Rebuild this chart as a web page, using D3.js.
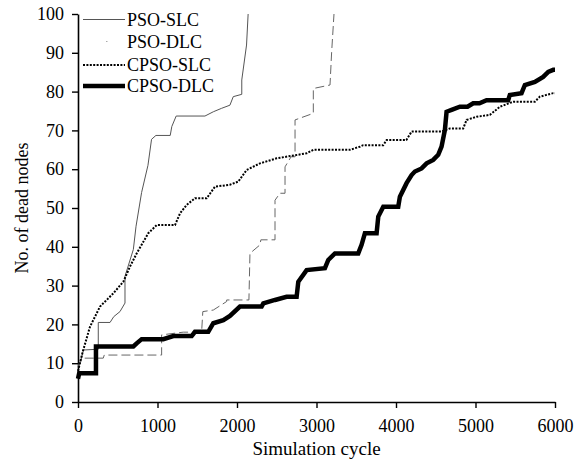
<!DOCTYPE html>
<html>
<head>
<meta charset="utf-8">
<script src="https://cdn.jsdelivr.net/npm/d3@7"></script>
<style>
  body { margin: 0; background: #fff; }
  svg { font-family: "Liberation Serif", "Times New Roman", serif; }
</style>
</head>
<body>
<div id="chart"></div>
<script>
// valores: [ciclo, nós mortos]
const psoSlc = [[0,9],[30,10],[67,13.4],[255,13.6],[255,20.5],[403,20.5],[450,22],[528,23.3],[591,25.5],[591,32.4],[696,39.3],[730,45.3],[800,54],[880,61],[925,67.7],[980,68.7],[1160,68.7],[1180,71],[1235,73.7],[1597,73.7],[1702,74.8],[1807,75.7],[1911,76.5],[1953,78.7],[2060,79.3],[2060,83],[2120,92],[2140,100]];
const psoDlc = [[0,9],[40,11.3],[318,11.3],[330,12.1],[1052,12.1],[1052,17.3],[1324,18],[1555,18],[1570,23.3],[1702,23.7],[1870,25.9],[1870,26.3],[2150,26.3],[2163,38.3],[2289,40.5],[2300,41.8],[2478,41.8],[2478,52],[2540,53.8],[2604,53.8],[2604,60.6],[2680,63.2],[2730,63.2],[2730,72.7],[2960,74.4],[2960,80.8],[3170,81.7],[3190,90],[3220,100]];
const cpsoSlc = [[0,8],[60,13],[151,19.4],[277,24.6],[444,28],[570,31],[654,34.9],[738,38.3],[884,43.5],[990,45.6],[1220,45.6],[1283,48.6],[1367,50.8],[1471,52.5],[1618,52.5],[1723,55.5],[1911,56],[2016,56.8],[2121,59.8],[2289,61.5],[2498,62.8],[2876,64.1],[2960,65],[3420,65],[3546,65.8],[3588,66.2],[3840,66.2],[3882,67.5],[4130,67.5],[4196,69.7],[4573,69.7],[4678,70.5],[4845,70.5],[4888,72.7],[5013,73.5],[5181,74],[5307,76.1],[5474,77.4],[5747,77.4],[5810,78.7],[5978,79.6],[6000,79.6]];
const cpsoDlc = [[0,6],[15,7.4],[226,7.4],[226,14.3],[696,14.3],[738,15.1],[801,16.2],[1073,16.2],[1199,17],[1430,17],[1471,18.1],[1639,18.1],[1702,20.3],[1828,21.1],[1911,22.2],[2037,24.6],[2310,24.6],[2331,25.4],[2478,26.3],[2624,27.1],[2750,27.1],[2771,31],[2876,34],[3106,34.5],[3148,36.6],[3232,38.3],[3525,38.3],[3567,40.5],[3609,43.5],[3756,43.5],[3777,47.8],[3840,50.3],[4028,50.3],[4049,52.9],[4133,56.4],[4196,58.5],[4238,59.4],[4322,60.2],[4385,61.5],[4468,62.4],[4531,63.7],[4573,65.8],[4615,70.1],[4636,74.8],[4699,75.3],[4804,76.1],[4900,76.1],[4971,77],[5050,77],[5139,77.8],[5411,77.8],[5432,79.1],[5579,79.6],[5621,81.7],[5747,82.5],[5851,83.8],[5915,85.1],[5978,85.6],[6000,85.6]];

const nomesSeries = ["PSO-SLC", "PSO-DLC", "CPSO-SLC", "CPSO-DLC"];
const ticksX = [0, 1000, 2000, 3000, 4000, 5000, 6000];
const ticksY = [0, 10, 20, 30, 40, 50, 60, 70, 80, 90, 100];

const largura = 583;
const altura = 462;
const margem = { top: 14, right: 28, bottom: 60, left: 78 };

const estilos = [
  { cor: "#555", espessura: 1, traco: null },
  { cor: "#666", espessura: 1, traco: "9,4" },
  { cor: "#000", espessura: 2, traco: "2,1.4" },
  { cor: "#000", espessura: 4.5, traco: null }
];
const series = [psoSlc, psoDlc, cpsoSlc, cpsoDlc];

const svg = d3.select("#chart").append("svg")
  .attr("width", largura)
  .attr("height", altura);

const escalaX = d3.scaleLinear()
  .domain([0, 6000])
  .range([margem.left, largura - margem.right]);

const escalaY = d3.scaleLinear()
  .domain([0, 100])
  .range([altura - margem.bottom, margem.top]);

// Eixos (ticks para fora, como no original)
const eixoX = svg.append("g")
  .attr("transform", `translate(0,${altura - margem.bottom})`)
  .call(d3.axisBottom(escalaX).tickValues(ticksX).tickFormat(d3.format("d"))
    .tickSizeInner(6).tickSizeOuter(0).tickPadding(11));

const eixoY = svg.append("g")
  .attr("transform", `translate(${margem.left},0)`)
  .call(d3.axisLeft(escalaY).tickValues(ticksY).tickSizeInner(6).tickSizeOuter(0).tickPadding(8));

[eixoX, eixoY].forEach(g => {
  g.select(".domain").attr("stroke", "#000").attr("stroke-width", 1.6);
  g.selectAll(".tick line").attr("stroke", "#000").attr("stroke-width", 1.4);
  g.selectAll(".tick text")
    .attr("fill", "#000")
    .style("font-family", "'Liberation Serif', serif")
    .style("font-size", "18px");
});

// Curvas
const linha = d3.line()
  .x(d => escalaX(d[0]))
  .y(d => escalaY(d[1]));

series.forEach((dados, i) => {
  svg.append("path")
    .datum(dados)
    .attr("fill", "none")
    .attr("stroke", estilos[i].cor)
    .attr("stroke-width", estilos[i].espessura)
    .attr("stroke-dasharray", estilos[i].traco)
    .attr("stroke-linejoin", "miter")
    .attr("d", linha);
});

// Legenda
const legenda = svg.append("g");
const yLegenda = [19.5, 41.5, 65, 86];
nomesSeries.forEach((nome, i) => {
  const l = legenda.append("line")
    .attr("x1", 83).attr("x2", 125)
    .attr("y1", yLegenda[i]).attr("y2", yLegenda[i])
    .attr("stroke", estilos[i].cor)
    .attr("stroke-width", estilos[i].espessura);
  if (i === 1) {
    // no original só aparece um pontinho
    l.attr("stroke", "#aaa").attr("stroke-dasharray", "1.5,100").attr("stroke-dashoffset", -23);
  } else if (estilos[i].traco) {
    l.attr("stroke-dasharray", estilos[i].traco);
  }
  legenda.append("text")
    .attr("x", 127)
    .attr("y", yLegenda[i] + 6)
    .style("font-size", "18px")
    .attr("fill", "#000")
    .text(nome);
});

// Títulos dos eixos
svg.append("text")
  .attr("x", (margem.left + largura - margem.right) / 2)
  .attr("y", 455)
  .attr("text-anchor", "middle")
  .style("font-size", "19px")
  .text("Simulation cycle");

svg.append("text")
  .attr("transform", `translate(28,${(margem.top + altura - margem.bottom) / 2}) rotate(-90)`)
  .attr("text-anchor", "middle")
  .style("font-size", "18px")
  .text("No. of dead nodes");
</script>
</body>
</html>
